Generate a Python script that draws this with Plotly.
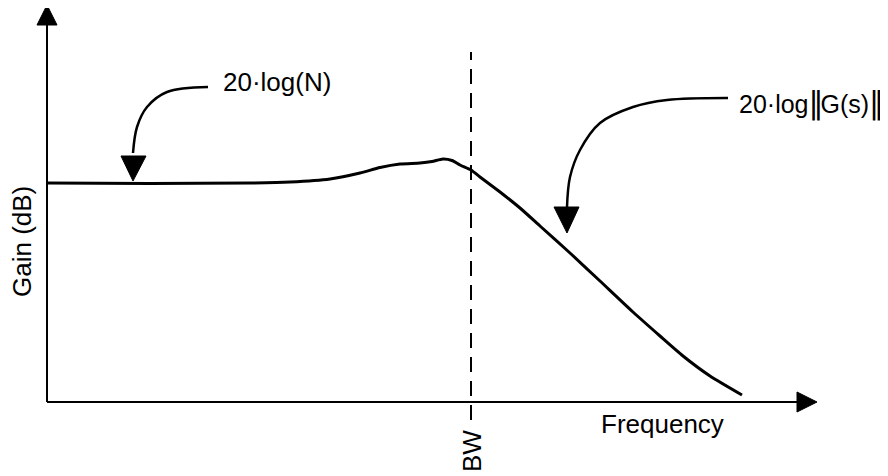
import plotly.graph_objects as go

# Gain response curve (schematic units: origin at the axes corner)
freq = [0, 103, 203, 243, 283, 313, 333, 353, 373, 385, 396, 405, 413, 424,
        433, 453, 473, 493, 523, 553, 586, 613, 636, 663, 695]
gain = [219, 218.5, 219, 220, 223, 229, 234.5, 238, 239, 240.5, 243, 241.5, 237, 232,
        225, 210, 194, 176, 149, 121, 90, 66, 46, 26, 7]

# bandwidth marker
bw_freq = 424
bw_span = [-18, 350]

# axis extents
x_axis_end = 750
y_axis_end = 377

# callout arrows (curved leaders)
n_arrow_x = [161, 120, 100, 90, 86]
n_arrow_y = [315, 310, 295, 275, 249]
n_head_x = [74, 99, 86, 74]
n_head_y = [246, 246, 221, 246]

g_arrow_x = [681, 620, 586, 553, 533, 523, 520]
g_arrow_y = [304, 302, 295, 279, 252, 225, 195]
g_head_x = [507, 532, 520, 507]
g_head_y = [195, 195, 169, 195]

FONT = dict(family="Liberation Sans, Arial, sans-serif", size=26, color="black")

fig = go.Figure()

# axes
fig.add_trace(go.Scatter(x=[0, 0], y=[0, y_axis_end], mode="lines",
                         line=dict(color="black", width=2)))
fig.add_trace(go.Scatter(x=[0, x_axis_end], y=[0, 0], mode="lines",
                         line=dict(color="black", width=2)))
fig.add_trace(go.Scatter(x=[-10, 10, 0, -10], y=[y_axis_end, y_axis_end, y_axis_end + 20, y_axis_end],
                         mode="lines", fill="toself", fillcolor="black",
                         line=dict(color="black", width=1)))
fig.add_trace(go.Scatter(x=[x_axis_end, x_axis_end, x_axis_end + 20, x_axis_end], y=[10, -10, 0, 10],
                         mode="lines", fill="toself", fillcolor="black",
                         line=dict(color="black", width=1)))

# bandwidth dashed line
fig.add_trace(go.Scatter(x=[bw_freq, bw_freq], y=bw_span, mode="lines",
                         line=dict(color="black", width=2, dash="15px,9px")))

# gain curve
fig.add_trace(go.Scatter(x=freq, y=gain, mode="lines",
                         line=dict(color="black", width=3, shape="spline", smoothing=0.6)))

# curved callouts
for lx, ly, hx, hy in [(n_arrow_x, n_arrow_y, n_head_x, n_head_y),
                       (g_arrow_x, g_arrow_y, g_head_x, g_head_y)]:
    fig.add_trace(go.Scatter(x=lx, y=ly, mode="lines",
                             line=dict(color="black", width=2.5, shape="spline")))
    fig.add_trace(go.Scatter(x=hx, y=hy, mode="lines", fill="toself", fillcolor="black",
                             line=dict(color="black", width=1)))

bar = "<span style='font-family:DejaVu Sans;font-size:30px;letter-spacing:-3px'>‖</span>"
labels = [
    dict(x=174, y=320, text="20·log(N)", xanchor="left", textangle=0, size=26),
    dict(x=690, y=299, text="20·log" + bar + "G(s)" + bar + " ", xanchor="left", textangle=0, size=25),
    dict(x=-25, y=160, text="Gain (dB)", xanchor="center", textangle=-90, size=26),
    dict(x=552, y=-22, text="Frequency", xanchor="left", textangle=0, size=26),
    dict(x=425, y=-49, text="BW", xanchor="center", textangle=-90, size=26),
]
for lab in labels:
    fig.add_annotation(x=lab["x"], y=lab["y"], text=lab["text"], showarrow=False,
                       xanchor=lab["xanchor"], yanchor="middle", textangle=lab["textangle"],
                       font=dict(FONT, size=lab["size"]))

# page body has an 8px margin, so the figure is shrunk and the ranges shifted to match
fig.update_layout(
    width=880, height=468,
    margin=dict(l=0, r=0, t=0, b=0),
    paper_bgcolor="white", plot_bgcolor="white",
    showlegend=False,
    xaxis=dict(range=[-39, 841], visible=False, fixedrange=True),
    yaxis=dict(range=[-74, 394], visible=False, fixedrange=True),
)

fig.write_html("out.html")
